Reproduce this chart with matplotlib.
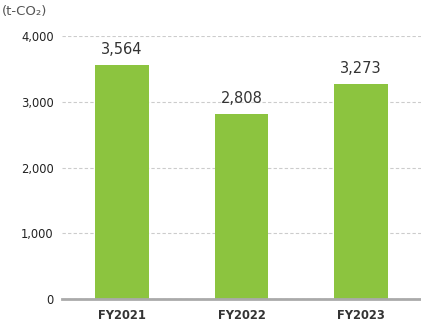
import matplotlib.pyplot as plt

years = ["FY2021", "FY2022", "FY2023"]
emissions = [3564, 2808, 3273]
yticks = [0, 1000, 2000, 3000, 4000]

fig = plt.figure(figsize=(4.21, 3.22), dpi=100)
ax = fig.add_axes([62/421, 23/322, 359/421, 263/322])

x = range(len(years))
bars = ax.bar(x, emissions, width=0.45, color="#8cc43f", zorder=3)
for b, v in zip(bars, emissions):
    ax.text(b.get_x() + b.get_width()/2, v + 120, f"{v:,}", ha="center", va="bottom",
            fontsize=10.5, color="#333333")

ax.set_xlim(-0.5, 2.5)
ax.set_ylim(0, 4000)
ax.set_yticks(yticks)
ax.set_yticklabels([f"{t:,}" for t in yticks], fontsize=8.3, color="#222222")
ax.set_xticks(list(x))
ax.set_xticklabels(years, fontsize=8.3, fontweight="bold", color="#333333")
ax.tick_params(length=0, pad=7)
ax.tick_params(axis="y", pad=6)
ax.yaxis.grid(True, linestyle=(0, (3, 2)), color="#cccccc", linewidth=0.8, zorder=0)
for s in ["left", "right", "top"]:
    ax.spines[s].set_visible(False)
ax.spines["bottom"].set_color("#aaaaaa")
ax.spines["bottom"].set_linewidth(2)
ax.spines["bottom"].set_zorder(4)

fig.text(2/421, 1 - 11/322, "(t-CO₂)", fontsize=9.5, color="#555555", va="center")

fig.savefig("out.png", dpi=100)
